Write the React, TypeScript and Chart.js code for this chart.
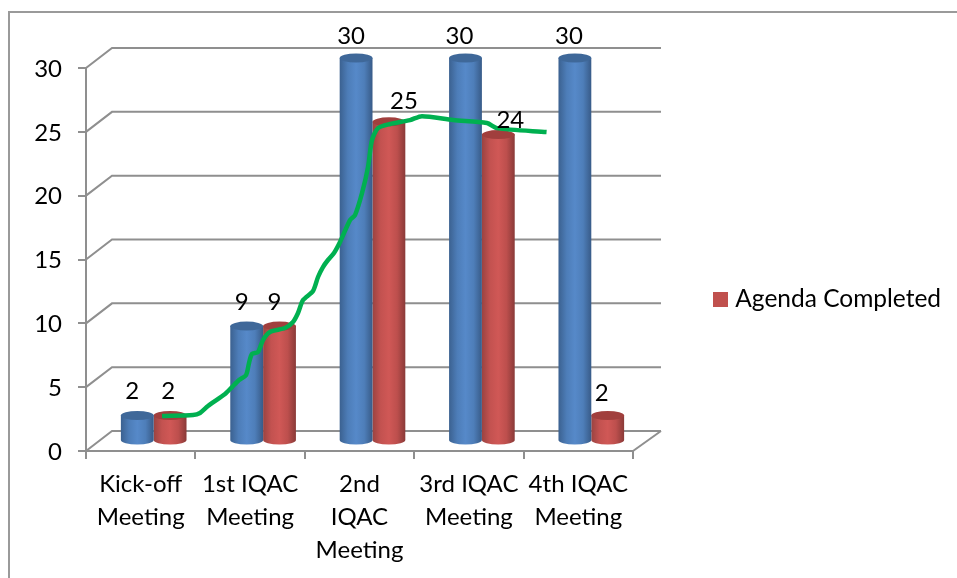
import React, { useEffect, useRef } from "react";
import { Chart, registerables } from "chart.js";

Chart.register(...registerables);

// Meeting names, one entry per wrapped line of the axis label
const categories = [
  ["Kick-off", "Meeting"],
  ["1st IQAC", "Meeting"],
  ["2nd", "IQAC", "Meeting"],
  ["3rd IQAC", "Meeting"],
  ["4th IQAC", "Meeting"],
];
const agendaPlanned = [2, 9, 30, 30, 30];
const agendaCompleted = [2, 9, 25, 24, 2];

// Hand-drawn green curve, x as a fractional category index, y in axis units
const curveX = [0.195, 0.478, 0.542, 0.615, 0.771, 0.835, 0.899, 0.963, 0.99, 1.017, 1.072, 1.118, 1.182, 1.319, 1.392, 1.438, 1.484, 1.575, 1.621, 1.666, 1.712, 1.767, 1.822, 1.913, 1.959, 2.023, 2.078, 2.114, 2.169, 2.279, 2.462, 2.571, 2.855, 3.165, 3.257, 3.71];
const curveY = [2.74, 2.82, 2.98, 3.52, 4.46, 5.01, 5.56, 5.95, 6.89, 7.6, 7.75, 8.69, 9.32, 9.63, 10.1, 10.81, 11.82, 12.53, 13.63, 14.41, 14.96, 15.51, 16.37, 18.09, 18.48, 20.2, 22.24, 24.35, 25.29, 25.61, 25.92, 26.23, 25.92, 25.69, 25.29, 24.98];

const FONT = "Lato";
const LEGEND_SIZE = 24.5;
const AXIS_SIZE = 24;
const GREY = "#8f8f8f";
const DEPTH_X = 26;
const DEPTH_Y = -20;
const BAR_SHIFT_X = 13;
const BAR_SHIFT_Y = -10;

const blueStops: [number, string][] = [[0, "#3b6190"], [0.25, "#4d7db8"], [0.5, "#5689c9"], [0.75, "#4e7eb9"], [1, "#385b88"]];
const redStops: [number, string][] = [[0, "#9a4341"], [0.25, "#c35250"], [0.5, "#d05856"], [0.75, "#bd4f4d"], [1, "#8a3a38"]];
const capColors = ["#3f6899", "#a13f3d"];

// Per-label text placement relative to the top of its cylinder
const labelNudge = [
  [[-5, -24], [-5, -24], [-5, -22], [-6, -22], [-6, -22]],
  [[-2, -24], [-5, -24], [15, -21], [12, -14], [-6, -22]],
];

const cylinderFill = (stops: [number, string][], side: number) => (ctx: any) => {
  if (ctx.type !== "data") return stops[2][1];
  const x = ctx.chart.scales.x;
  const w = (x.width / categories.length) * 0.3;
  const c = x.getPixelForValue(ctx.dataIndex);
  if (!Number.isFinite(c) || !Number.isFinite(w)) return stops[2][1];
  const x0 = side === 0 ? c - w : c;
  const g = ctx.chart.ctx.createLinearGradient(x0, 0, x0 + w, 0);
  stops.forEach(([o, col]) => g.addColorStop(o, col));
  return g;
};

// Back wall, side wall and floor of the box, from the value axis ticks
const wallPlugin = {
  id: "wall",
  beforeDatasetsDraw(chart: any) {
    const { ctx, scales } = chart;
    const { left, right } = chart.chartArea;
    ctx.save();
    ctx.strokeStyle = GREY;
    ctx.lineWidth = 2;
    scales.y.ticks.forEach((t: any) => {
      const y = scales.y.getPixelForValue(t.value);
      ctx.beginPath();
      ctx.moveTo(left, y);
      ctx.lineTo(left + DEPTH_X, y + DEPTH_Y);
      ctx.lineTo(right + DEPTH_X + 2, y + DEPTH_Y);
      ctx.stroke();
    });
    const y0 = scales.y.getPixelForValue(0);
    ctx.beginPath();
    ctx.moveTo(right, y0);
    ctx.lineTo(right + DEPTH_X + 2, y0 + DEPTH_Y);
    ctx.stroke();
    ctx.restore();
  },
};

// Moves the bars into the middle of the box depth and adds round ends
const cylinderPlugin = {
  id: "cylinder",
  beforeDatasetDraw(chart: any, args: any) {
    if (args.index > 1) return;
    chart.ctx.save();
    chart.ctx.translate(BAR_SHIFT_X, BAR_SHIFT_Y);
  },
  afterDatasetDraw(chart: any, args: any) {
    if (args.index > 1) return;
    const { ctx } = chart;
    args.meta.data.forEach((el: any) => {
      const { x, y, base, width } = el.getProps(["x", "y", "base", "width"], true);
      ctx.fillStyle = el.options.backgroundColor;
      ctx.beginPath();
      ctx.ellipse(x, base, width / 2, 4.5, 0, 0, Math.PI);
      ctx.fill();
      ctx.fillStyle = capColors[args.index];
      ctx.beginPath();
      ctx.ellipse(x, y, width / 2, 4.5, 0, 0, Math.PI * 2);
      ctx.fill();
    });
    ctx.restore();
  },
  afterDatasetsDraw(chart: any) {
    const { ctx } = chart;
    ctx.save();
    ctx.fillStyle = "#000";
    ctx.font = `${AXIS_SIZE}px ${FONT}`;
    ctx.textAlign = "center";
    ctx.textBaseline = "middle";
    [agendaPlanned, agendaCompleted].forEach((values, d) => {
      const meta = chart.getDatasetMeta(d);
      values.forEach((v, i) => {
        const el = meta.data[i];
        const [dx, dy] = labelNudge[d][i];
        ctx.fillText(String(v), el.x + BAR_SHIFT_X + dx, el.y + BAR_SHIFT_Y + dy);
      });
    });
    ctx.restore();
  },
};

// Places the legend in the free space right of the box
const legendPlacePlugin = {
  id: "legendPlace",
  afterLayout(chart: any) {
    const l = chart.legend;
    l.left = 708;
    l.right = 957;
    l.top = 277;
    l.bottom = 332;
    l.width = l.right - l.left;
    l.height = l.bottom - l.top;
  },
};

export default function App() {
  const ref = useRef<HTMLCanvasElement>(null);

  useEffect(() => {
    const swatch = document.createElement("canvas");
    swatch.width = 15;
    swatch.height = 15;
    const sw = swatch.getContext("2d")!;
    sw.fillStyle = "#c0504d";
    sw.fillRect(0, 0, 15, 15);

    const chart = new Chart(ref.current!, {
      type: "bar",
      data: {
        labels: categories,
        datasets: [
          {
            label: "Agenda Planned",
            data: agendaPlanned,
            backgroundColor: cylinderFill(blueStops, 0),
            categoryPercentage: 0.6,
            barPercentage: 1,
            order: 2,
            clip: false,
          },
          {
            label: "Agenda Completed",
            data: agendaCompleted,
            backgroundColor: cylinderFill(redStops, 1),
            categoryPercentage: 0.6,
            barPercentage: 1,
            order: 3,
            clip: false,
          },
          {
            type: "line",
            label: "Progress",
            data: curveX.map((x, i) => ({ x, y: curveY[i] })),
            parsing: false,
            borderColor: "#00b050",
            borderWidth: 4.5,
            pointRadius: 0,
            tension: 0.25,
            fill: false,
            order: 1,
            clip: false,
          },
        ],
      } as any,
      options: {
        responsive: false,
        animation: false,
        layout: { padding: { left: 0, right: 324, top: 68, bottom: 0 } },
        scales: {
          x: {
            type: "category",
            border: { color: GREY, width: 2 },
            grid: { color: GREY, lineWidth: 2, tickLength: 8, drawOnChartArea: false, offset: true },
            ticks: {
              color: "#000",
              font: { family: FONT, size: AXIS_SIZE, lineHeight: 1.375 },
              padding: 9,
              maxRotation: 0,
              autoSkip: false,
            },
            afterFit: (s: any) => {
              s.height = 127;
            },
          },
          y: {
            min: 0,
            max: 30,
            border: { color: GREY, width: 2 },
            grid: { color: GREY, lineWidth: 2, tickLength: 8, drawOnChartArea: false },
            ticks: {
              stepSize: 5,
              color: "#000",
              font: { family: FONT, size: AXIS_SIZE },
              padding: 16,
              labelOffset: 1,
            },
            afterFit: (s: any) => {
              s.width = 86;
            },
          },
        },
        plugins: {
          tooltip: { enabled: false },
          legend: {
            position: "chartArea",
            align: "start",
            labels: {
              filter: (item: any) => item.datasetIndex === 1,
              usePointStyle: true,
              pointStyle: swatch,
              pointStyleWidth: 5,
              boxHeight: 15,
              padding: 10,
              color: "#000",
              font: { family: FONT, size: LEGEND_SIZE },
            },
          },
        },
      } as any,
      plugins: [wallPlugin, cylinderPlugin, legendPlacePlugin],
    });
    return () => chart.destroy();
  }, []);

  return (
    <div style={{ position: "absolute", left: 0, top: 0, width: 957, height: 578, background: "#fff", overflow: "hidden" }}>
      <div
        style={{
          position: "absolute",
          left: 8,
          top: 11,
          right: 0,
          bottom: 0,
          borderLeft: "2px solid #9a9a9a",
          borderTop: "2px solid #9a9a9a",
        }}
      />
      <canvas ref={ref} width={957} height={578} style={{ position: "absolute", left: 0, top: 0, display: "block" }} />
    </div>
  );
}
